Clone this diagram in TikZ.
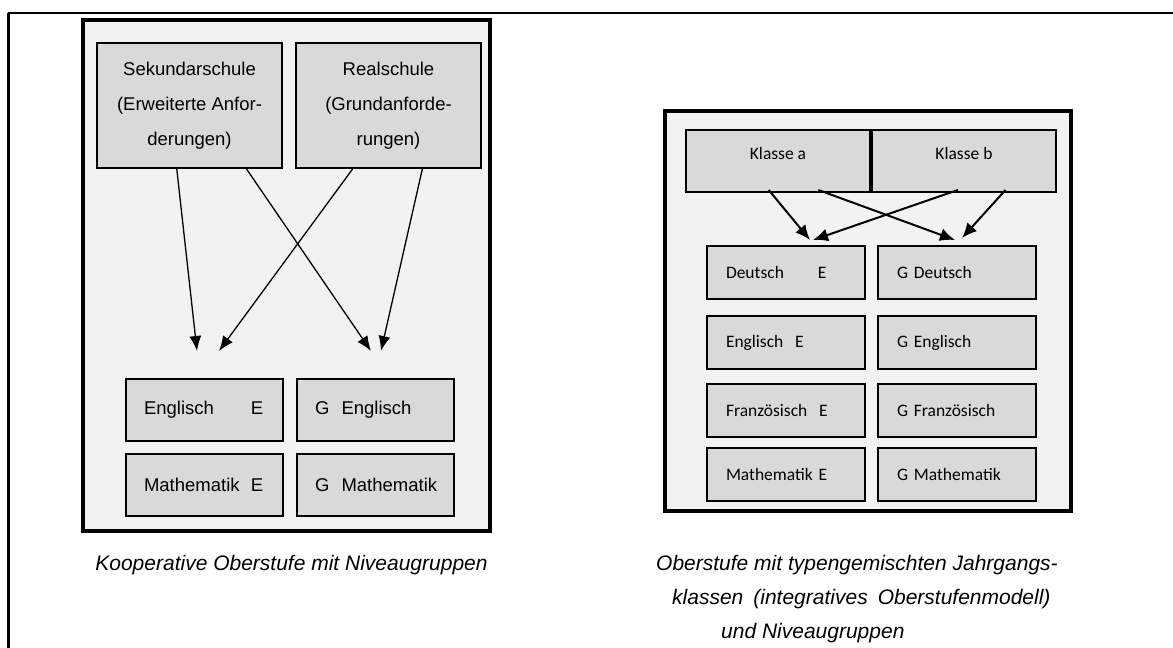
\documentclass[tikz,border=0pt]{standalone}
\usepackage{fontspec}
\setmainfont{Liberation Sans}
\newfontfamily\calibrifont{Carlito}
\usetikzlibrary{arrows.meta,positioning,calc}
\definecolor{panelgray}{HTML}{F2F2F2}
\definecolor{boxgray}{HTML}{D9D9D9}
\tikzstyle{panel} = [rectangle, draw, line width=3.5pt, fill=panelgray, inner sep=0pt, outer sep=0pt]
\tikzstyle{school} = [rectangle, draw, line width=2pt, fill=boxgray, minimum width=185pt, minimum height=125pt, align=center, inner sep=0pt, font=\fontsize{18.5}{35}\selectfont]
\tikzstyle{niveau} = [rectangle, draw, line width=2pt, fill=boxgray, minimum width=157pt, minimum height=62pt, text width=121pt, align=left, inner sep=0pt, font=\fontsize{18.5}{22}\selectfont]
\tikzstyle{klasse} = [rectangle, draw, line width=2pt, fill=boxgray, minimum width=184pt, minimum height=62pt, inner sep=0pt, text height=12pt, text depth=16pt, font=\calibrifont\fontsize{17.5}{21}\selectfont]
\tikzstyle{fach} = [rectangle, draw, line width=2pt, fill=boxgray, minimum width=158pt, minimum height=53pt, text width=120pt, align=left, inner sep=0pt, font=\calibrifont\fontsize{17.5}{21}\selectfont]
\tikzstyle{caption} = [inner sep=0pt, font=\fontsize{21}{25}\selectfont\itshape]
\tikzstyle{line} = [draw, -{Latex[length=15pt,width=12pt]}, line width=1.3pt]
\tikzstyle{thickline} = [draw, -{Latex[length=15pt,width=13pt]}, line width=2pt]

\begin{document}
\begin{tikzpicture}[x=1pt, y=-1pt]
    \useasboundingbox (0,0) rectangle (1173,648);
    \draw[line width=2.5pt] (8.5,648) -- (8.5,12.5);
    \draw[line width=2pt] (7.5,12.5) -- (1173,12.5);

    % kooperative Oberstufe
    \node [panel, minimum width=407pt, minimum height=511pt] (koop) at (286.5,275.5) {};
    \node [school] (sek) at (189.5,105.5) {Sekundarschule\\(Erweiterte Anfor-\\derungen)};
    \node [school, right=12pt of sek] (real) {Realschule\\(Grundanforde-\\rungen)};
    \node [niveau] (engE) at (204.5,409.5) {\mbox{\makebox[107pt][l]{Englisch}E}};
    \node [niveau, right=12pt of engE] (engG) {\mbox{G\hspace{6pt} Englisch}};
    \node [niveau, below=11pt of engE] (matE) {\mbox{\makebox[107pt][l]{Mathematik}E}};
    \node [niveau, right=12pt of matE] (matG) {\mbox{G\hspace{6pt} Mathematik}};
    \coordinate (sekE) at (197,351);
    \coordinate (sekG) at (371,351);
    \coordinate (realE) at (219,351);
    \coordinate (realG) at (381,351);
    \path [line] ($(sek.south west)!0.432!(sek.south east)$) -- (sekE);
    \path [line] ($(sek.south west)!0.805!(sek.south east)$) -- (sekG);
    \path [line] ($(real.south west)!0.308!(real.south east)$) -- (realE);
    \path [line] ($(real.south west)!0.681!(real.south east)$) -- (realG);
    \node [caption] (koopcap) at (291.5,565) {Kooperative Oberstufe mit Niveaugruppen};

    % integratives Oberstufenmodell
    \node [panel, minimum width=406pt, minimum height=400pt] (integ) at (868,311) {};
    \node [klasse] (klA) at (778,161) {Klasse a};
    \node [klasse, right=0pt of klA] (klB) {Klasse b};
    \node [fach] (deuE) at (786,272.5) {\mbox{Deutsch\hspace{34pt}E}};
    \node [fach, right=11pt of deuE] (deuG) {\mbox{G Deutsch}};
    \node [fach, below=15pt of deuE] (engE2) {\mbox{Englisch\ \ E}};
    \node [fach, right=11pt of engE2] (engG2) {\mbox{G Englisch}};
    \node [fach, below=13pt of engE2] (fraE) {\mbox{Französisch\ \ E}};
    \node [fach, right=11pt of fraE] (fraG) {\mbox{G Französisch}};
    \node [fach, below=9pt of fraE] (matE2) {\mbox{Mathematik E}};
    \node [fach, right=11pt of matE2] (matG2) {\mbox{G Mathematik}};
    \coordinate (klAE) at (810,240);
    \coordinate (klAG) at (955,240);
    \coordinate (klBE) at (813,240);
    \coordinate (klBG) at (962,238);
    \path [thickline] ($(klA.south west)!0.45!(klA.south east)+(0,-3)$) -- (klAE);
    \path [thickline] ($(klA.south west)!0.717!(klA.south east)+(0,-3)$) -- (klAG);
    \path [thickline] ($(klB.south west)!0.467!(klB.south east)+(0,-3)$) -- (klBE);
    \path [thickline] ($(klB.south west)!0.723!(klB.south east)+(0,-3)$) -- (klBG);
    \node [caption, anchor=west] (integcap1) at (656,565) {Oberstufe mit typengemischten Jahrgangs-};
    \node [caption, anchor=west] (integcap2) at (672,599) {klassen\hspace{10pt}(integratives\hspace{10pt}Oberstufenmodell)};
    \node [caption, anchor=west] (integcap3) at (721,633) {und Niveaugruppen};
\end{tikzpicture}
\end{document}
